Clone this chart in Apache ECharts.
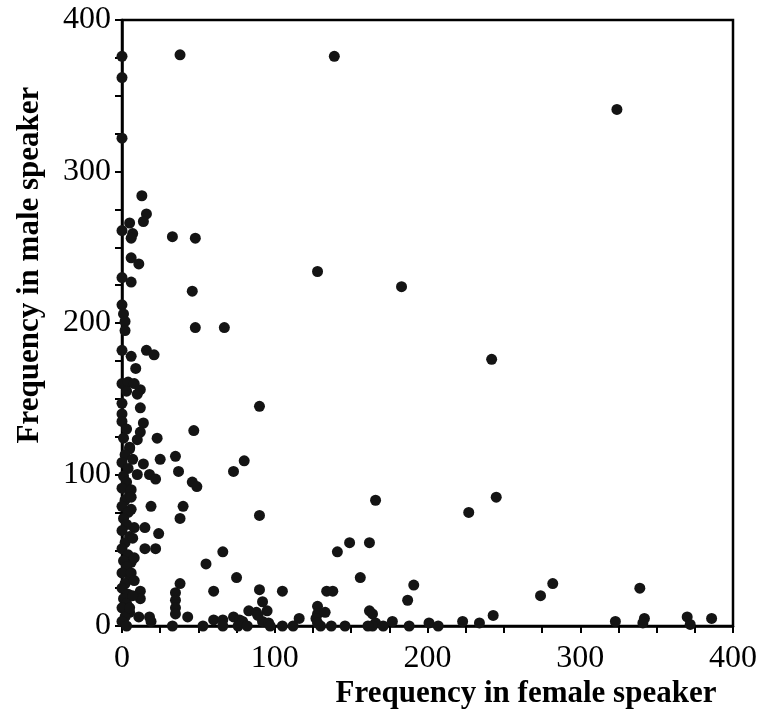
<!DOCTYPE html>
<html>
<head>
<meta charset="utf-8">
<script src="https://cdn.jsdelivr.net/npm/echarts@6/dist/echarts.min.js"></script>
<style>
  html, body { margin: 0; padding: 0; background: #fff; }
  #chart { width: 761px; height: 711px; }
</style>
</head>
<body>
<div id="chart"></div>
<script>
// Word frequencies: female speaker (x) vs male speaker (y)
const femaleFreq = [
  0, 0, 38, 139, 324, 0, 13, 16, 14, 5, 0, 7, 6, 33, 48, 6, 11, 128, 0, 6,
  46, 183, 0, 1, 2, 2, 48, 67, 0, 6, 16, 21, 0, 4, 8, 12, 3, 10, 90, 12,
  0, 0, 242,
  14, 12, 47, 10, 23, 5, 35, 25, 14, 37, 80, 73, 10, 18, 22, 46, 49, 90, 19, 40,
  38, 15, 24, 6, 8, 15, 22, 6, 166, 245, 227, 149, 162, 141, 66, 55, 75, 156, 38, 35,
  35, 35, 35, 60, 90, 105, 134, 138, 92, 95, 83, 88, 128, 128, 133, 127, 162, 164, 116, 191,
  187, 274, 282, 339, 243, 12, 12, 11, 18, 19, 43, 60, 66, 73, 77, 92, 96, 89, 79, 166,
  33, 53, 66, 76, 82, 97, 105, 112, 130, 137, 146, 164, 171, 177, 188, 201, 207, 223, 234, 323,
  342, 341, 370, 372, 386, 161, 128,
  0, 3, 1, 5, 2, 0, 4, 1, 3, 0, 5, 2, 0, 4, 1, 3, 0, 5, 2, 0,
  4, 1, 3, 0, 5, 2, 0, 4, 1, 3, 0, 5, 2, 0, 3,
  6, 7, 6, 8, 5, 7, 8, 6, 7, 9
];
const maleFreq = [
  376, 362, 377, 376, 341, 322, 284, 272, 267, 266, 261, 259, 256, 257, 256, 243, 239, 234, 230, 227,
  221, 224, 212, 206, 201, 195, 197, 197, 182, 178, 182, 179, 160, 161, 160, 156, 155, 153, 145, 144,
  147, 140, 176,
  134, 128, 129, 123, 124, 117, 112, 110, 107, 102, 109, 102, 100, 100, 97, 95, 92, 73, 79, 79,
  71, 65, 61, 77, 65, 51, 51, 42, 83, 85, 75, 55, 55, 49, 49, 41, 32, 32, 28, 22,
  17, 12, 8, 23, 24, 23, 23, 23, 16, 10, 10, 9, 13, 8, 9, 5, 10, 8, 5, 27,
  17, 20, 28, 25, 7, 23, 18, 6, 6, 3, 6, 4, 4, 6, 4, 3, 2, 7, 3, 2,
  0, 0, 0, 0, 0, 0, 0, 0, 0, 0, 0, 0, 0, 3, 0, 2, 0, 3, 2, 3,
  5, 2, 6, 1, 5, 0, 2,
  135, 130, 124, 118, 113, 108, 104, 99, 95, 91, 87, 83, 79, 75, 71, 67, 63, 59, 55, 51,
  47, 43, 39, 35, 31, 28, 25, 21, 18, 15, 12, 9, 6, 3, 0,
  90, 58, 35, 30, 12, 20, 45, 85, 110, 170
];
const axisTicks = [0, 100, 200, 300, 400];

const points = femaleFreq.map((x, i) => [x, maleFreq[i]]);
const serif = '"Liberation Serif", "Times New Roman", serif';

const axisCommon = {
  type: 'value',
  min: 0,
  max: 400,
  interval: 25,
  axisLine: { show: true, lineStyle: { color: '#000', width: 2.5 } },
  axisTick: { show: true, length: 7, lineStyle: { color: '#000', width: 2 } },
  splitLine: { show: false },
  axisLabel: {
    color: '#000',
    fontFamily: serif,
    fontSize: 32,
    formatter: v => (axisTicks.includes(v) ? String(v) : '')
  }
};

const chart = echarts.init(document.getElementById('chart'), null, { renderer: 'canvas' });
chart.setOption({
  backgroundColor: '#fff',
  animation: false,
  grid: {
    left: 122, right: 28, top: 20, bottom: 85,
    show: true, borderColor: '#000', borderWidth: 2.5, containLabel: false
  },
  xAxis: Object.assign({}, axisCommon, {
    axisLabel: Object.assign({}, axisCommon.axisLabel, { margin: 17 })
  }),
  yAxis: Object.assign({}, axisCommon, {
    axisLabel: Object.assign({}, axisCommon.axisLabel, { margin: 11 })
  }),
  series: [{
    type: 'scatter',
    data: points,
    symbol: 'circle',
    symbolSize: 11,
    itemStyle: { color: '#141414', opacity: 1 }
  }],
  graphic: [
    {
      type: 'text',
      x: 526, y: 694,
      style: {
        text: 'Frequency in female speaker',
        font: 'bold 31px ' + serif,
        fill: '#000',
        textAlign: 'center',
        textVerticalAlign: 'middle'
      }
    },
    {
      type: 'text',
      x: 30, y: 265,
      rotation: Math.PI / 2,
      style: {
        text: 'Frequency in male speaker',
        font: 'bold 31px ' + serif,
        fill: '#000',
        textAlign: 'center',
        textVerticalAlign: 'middle'
      }
    }
  ]
});
</script>
</body>
</html>
